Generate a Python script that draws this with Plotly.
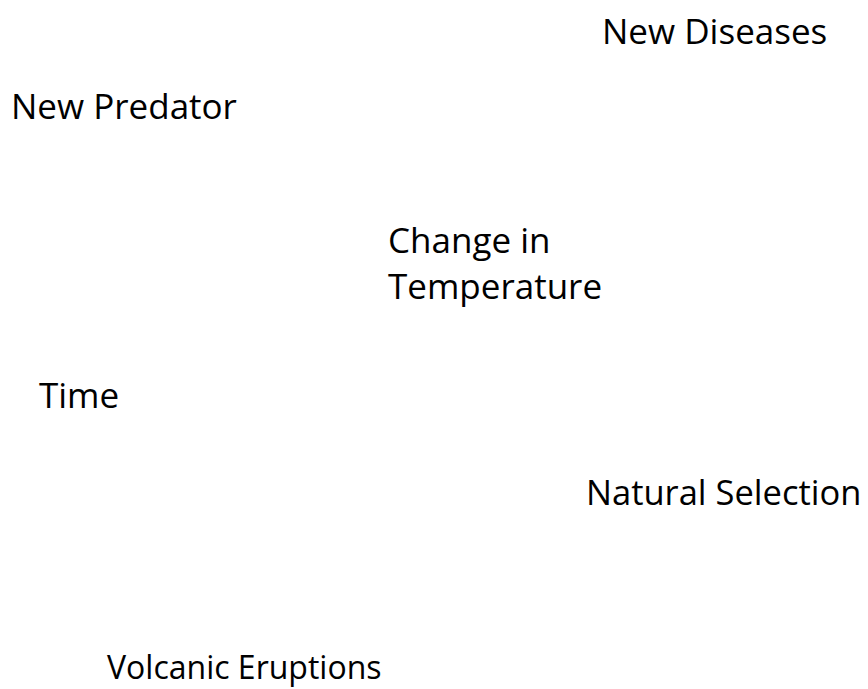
import plotly.graph_objects as go

labels = ["New Diseases", "New Predator", "Change in<br>Temperature", "Time",
          "Natural Selection", "Volcanic Eruptions"]
x_pos = [594, 3, 380, 31, 578, 99]
y_pos = [27.5, 102, 259, 391, 488, 663]
font_sizes = [35, 35, 35, 35, 34.5, 32]

fig = go.Figure(go.Scatter(
    x=x_pos, y=y_pos, text=labels, mode="text",
    textposition="middle right",
    textfont=dict(family="Open Sans", size=font_sizes, color="#000000"),
    hoverinfo="skip", cliponaxis=False,
))
fig.update_layout(
    width=868, height=689,
    margin=dict(l=0, r=0, t=0, b=0),
    paper_bgcolor="white", plot_bgcolor="white",
    showlegend=False,
    xaxis=dict(range=[0, 868], visible=False, fixedrange=True),
    yaxis=dict(range=[689, 0], visible=False, fixedrange=True),
)
fig.write_html("out.html")
